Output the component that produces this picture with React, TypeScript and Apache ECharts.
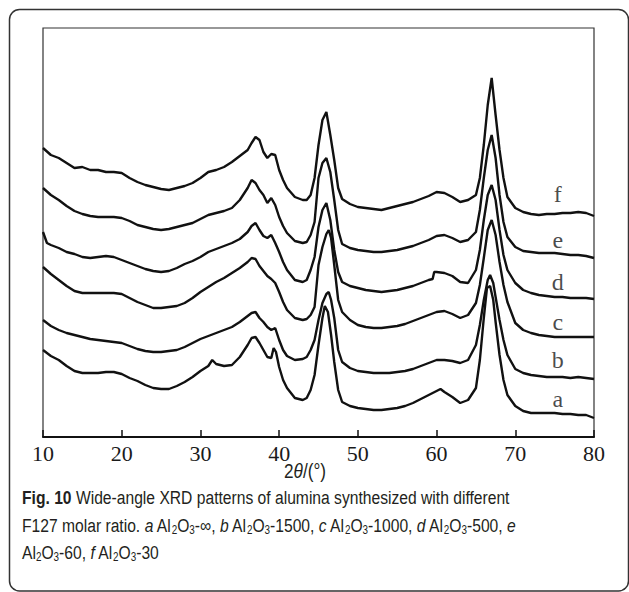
import React, { useEffect, useRef } from "react";
import * as echarts from "echarts";

// 2θ (deg) vs intensity (a.u.)
const curveA: [number, number][] = [
  [10, 87], [11, 81], [12, 77], [13, 71], [14, 66], [15, 64], [16, 64], [17, 64], [18, 65], [19, 65],
  [20, 63], [21, 59], [22, 56], [23, 52], [24, 49], [25, 48], [26, 48], [27, 51], [28, 55], [29, 60],
  [30, 66], [31, 71], [31.5, 77], [32, 73], [33, 71], [34, 72], [35, 80], [36, 92], [36.5, 99], [37, 100],
  [37.5, 94], [38, 87], [38.5, 80], [39, 79], [39.3, 89], [39.6, 85], [40, 70], [40.5, 57], [41, 49], [42, 39],
  [43, 37], [43.5, 39], [44, 47], [44.5, 62], [45, 92], [45.5, 119], [45.8, 131], [46.2, 125], [46.6, 102], [47, 75],
  [47.5, 47], [48, 35], [49, 31], [50, 29], [51, 28], [52, 27], [53, 27], [54, 28], [55, 29], [56, 31],
  [57, 34], [58, 38], [59, 42], [60, 46], [60.5, 48], [61, 45], [62, 40], [63, 34], [64, 37], [65, 49],
  [65.5, 77], [66, 119], [66.4, 149], [66.8, 151], [67.2, 137], [67.5, 115], [68, 82], [68.5, 57], [69, 42], [70, 31],
  [71, 26], [72, 24], [73, 24], [74, 24], [75, 24], [76, 23], [77, 23], [78, 22], [79, 22], [80, 19],
];

const curveB: [number, number][] = [
  [10, 117], [11, 111], [12, 107], [13, 104], [14, 102], [15, 100], [16, 98], [17, 97], [18, 96], [19, 95],
  [20, 94], [21, 91], [22, 88], [23, 86], [24, 85], [25, 85], [26, 86], [27, 87], [28, 90], [29, 94],
  [30, 98], [31, 101], [32, 104], [33, 107], [34, 110], [35, 115], [36, 121], [36.5, 124], [37, 125], [37.5, 119],
  [38, 115], [38.5, 110], [39, 107], [39.5, 109], [40, 97], [40.5, 87], [41, 81], [42, 77], [43, 78], [43.5, 80],
  [44, 87], [44.5, 97], [45, 117], [45.5, 134], [46, 143], [46.3, 145], [46.6, 137], [47, 119], [47.5, 87], [48, 75],
  [49, 69], [50, 66], [51, 65], [52, 64], [53, 64], [54, 64], [55, 65], [56, 66], [57, 68], [58, 71],
  [59, 74], [60, 77], [61, 77], [62, 76], [63, 74], [64, 77], [65, 92], [65.5, 112], [66, 137], [66.5, 157],
  [66.8, 162], [67.2, 154], [67.5, 140], [68, 117], [68.5, 97], [69, 82], [70, 68], [71, 64], [72, 62], [73, 61],
  [74, 60], [75, 60], [76, 60], [77, 59], [78, 60], [79, 59], [80, 58],
];

const curveC: [number, number][] = [
  [10, 170], [11, 163], [12, 157], [13, 151], [14, 146], [15, 144], [16, 144], [17, 144], [18, 144], [19, 144],
  [20, 143], [21, 139], [22, 135], [23, 132], [24, 129], [25, 129], [26, 130], [27, 131], [28, 134], [29, 139],
  [30, 145], [31, 150], [32, 155], [33, 159], [34, 164], [35, 169], [36, 175], [36.5, 179], [37, 178], [37.5, 171],
  [38, 166], [38.5, 161], [39, 158], [39.5, 154], [40, 145], [40.5, 135], [41, 127], [42, 119], [43, 117], [43.5, 118],
  [44, 122], [44.5, 130], [45, 172], [45.5, 190], [46, 203], [46.3, 207], [46.6, 199], [47, 172], [47.5, 137], [48, 125],
  [49, 117], [50, 112], [51, 110], [52, 109], [53, 109], [54, 110], [55, 111], [56, 113], [57, 116], [58, 119],
  [59, 122], [60, 125], [61, 126], [62, 123], [63, 119], [64, 122], [65, 134], [65.5, 152], [66, 179], [66.5, 207],
  [67, 217], [67.5, 202], [68, 175], [68.5, 152], [69, 135], [70, 114], [71, 107], [72, 104], [73, 102], [74, 101],
  [75, 100], [76, 100], [77, 100], [78, 100], [79, 100], [80, 100],
];

const curveD: [number, number][] = [
  [10, 205], [10.5, 194], [11, 192], [12, 189], [13, 185], [14, 183], [15, 180], [16, 179], [17, 180], [18, 181],
  [19, 180], [20, 177], [21, 174], [22, 171], [23, 168], [24, 166], [25, 165], [26, 166], [27, 169], [28, 173],
  [29, 176], [30, 180], [31, 185], [32, 188], [33, 191], [34, 194], [35, 198], [36, 205], [36.5, 211], [37, 214],
  [37.5, 207], [38, 201], [38.5, 199], [39, 202], [39.5, 194], [40, 185], [40.5, 175], [41, 167], [42, 157], [43, 155],
  [43.5, 157], [44, 167], [44.5, 180], [45, 210], [45.5, 227], [46, 234], [46.5, 217], [47, 187], [47.5, 165], [48, 155],
  [49, 151], [50, 149], [51, 147], [52, 146], [53, 145], [54, 146], [55, 147], [56, 149], [57, 151], [58, 154],
  [59, 157], [59.5, 158], [59.7, 165], [60, 165], [61, 164], [62, 161], [63, 155], [64, 154], [65, 167], [65.5, 187],
  [66, 217], [66.5, 242], [67, 252], [67.5, 237], [68, 207], [68.5, 182], [69, 167], [70, 154], [71, 147], [72, 144],
  [73, 142], [74, 141], [75, 140], [76, 140], [77, 139], [78, 139], [79, 139], [80, 138],
];

const curveE: [number, number][] = [
  [10, 249], [11, 242], [12, 237], [13, 231], [14, 226], [15, 223], [16, 221], [17, 220], [18, 220], [19, 220],
  [20, 219], [21, 216], [22, 212], [23, 210], [24, 208], [25, 207], [26, 208], [27, 210], [28, 212], [29, 214],
  [30, 218], [31, 222], [32, 224], [33, 226], [34, 229], [35, 237], [36, 249], [36.5, 257], [37, 254], [37.5, 247],
  [38, 242], [38.5, 234], [39, 239], [39.5, 232], [40, 220], [40.5, 211], [41, 204], [42, 196], [43, 194], [43.5, 195],
  [44, 202], [44.5, 215], [45, 259], [45.5, 274], [46, 279], [46.5, 265], [47, 237], [47.5, 207], [48, 193], [49, 189],
  [50, 187], [51, 186], [52, 185], [53, 185], [54, 186], [55, 187], [56, 189], [57, 191], [58, 194], [59, 197],
  [60, 201], [61, 202], [62, 199], [63, 195], [64, 197], [65, 205], [65.5, 227], [66, 259], [66.5, 287], [67, 302],
  [67.5, 279], [68, 242], [68.5, 215], [69, 200], [70, 190], [71, 186], [72, 185], [73, 184], [74, 184], [75, 184],
  [76, 183], [77, 182], [78, 182], [79, 181], [80, 179],
];

const curveF: [number, number][] = [
  [10, 289], [11, 282], [12, 279], [13, 274], [14, 269], [15, 270], [16, 267], [17, 267], [18, 265], [19, 265],
  [20, 264], [21, 259], [22, 255], [23, 252], [24, 250], [25, 248], [26, 247], [27, 249], [28, 251], [29, 254],
  [30, 259], [31, 265], [32, 267], [33, 270], [34, 275], [35, 281], [36, 287], [36.5, 294], [37, 300], [37.5, 297],
  [38, 285], [38.5, 279], [39, 283], [39.5, 282], [40, 267], [40.5, 257], [41, 249], [42, 240], [43, 237], [43.5, 237],
  [44, 242], [44.5, 259], [45, 292], [45.5, 317], [46, 325], [46.5, 302], [47, 277], [47.5, 249], [48, 238], [49, 233],
  [50, 230], [51, 229], [52, 228], [53, 227], [54, 229], [55, 231], [56, 233], [57, 235], [58, 238], [59, 241],
  [60, 245], [61, 244], [62, 240], [63, 235], [64, 237], [65, 242], [65.5, 259], [66, 292], [66.5, 332], [67, 359],
  [67.5, 322], [68, 287], [68.5, 259], [69, 240], [70, 229], [71, 225], [72, 223], [73, 222], [74, 223], [75, 223],
  [76, 224], [77, 224], [78, 225], [79, 224], [80, 221],
];

const curveNames = ["a", "b", "c", "d", "e", "f"];
const curves = [curveA, curveB, curveC, curveD, curveE, curveF];
const labelX = [75.4, 75.4, 75.4, 75.4, 75.4, 75.4];
const labelY = [38, 77, 115, 155, 197, 243];
const xTicks = [10, 20, 30, 40, 50, 60, 70, 80];

const captionLines = [
  "{b|Fig. 10} Wide-angle XRD patterns of alumina synthesized with different",
  "F127 molar ratio. {i|a} Al{s|2}O{s|3}-∞, {i|b} Al{s|2}O{s|3}-1500, {i|c} Al{s|2}O{s|3}-1000, {i|d} Al{s|2}O{s|3}-500, {i|e}",
  "Al{s|2}O{s|3}-60, {i|f} Al{s|2}O{s|3}-30",
];

export default function App() {
  const ref = useRef<HTMLDivElement>(null);
  useEffect(() => {
    if (!ref.current) return;
    const chart = echarts.init(ref.current, undefined, { renderer: "svg" });
    const sans = '"Liberation Sans", Arial, sans-serif';
    const serif = '"Liberation Serif", "Times New Roman", serif';
    const richCaption = {
      b: { fontWeight: "bold", fontSize: 19, fontFamily: sans, fill: "#231f20", lineHeight: 22 },
      i: { fontStyle: "italic", fontSize: 19, fontFamily: sans, fill: "#231f20", lineHeight: 22 },
      s: { fontSize: 12, fontFamily: sans, fill: "#231f20", lineHeight: 12, verticalAlign: "bottom" },
    };
    const captionY = [497, 525, 552];
    const option: any = {
      animation: false,
      backgroundColor: "#ffffff",
      grid: {
        left: 43,
        top: 28,
        width: 551,
        height: 409,
        show: true,
        borderColor: "#333",
        borderWidth: 1.2,
        backgroundColor: "transparent",
      },
      xAxis: {
        type: "value",
        min: xTicks[0],
        max: xTicks[xTicks.length - 1],
        interval: 10,
        axisLine: { show: true, onZero: false, lineStyle: { color: "#111", width: 2 } },
        axisTick: { show: true, inside: true, length: 7, lineStyle: { color: "#111", width: 1.5 } },
        axisLabel: { fontFamily: serif, fontSize: 22, color: "#1a1a1a", margin: 5 },
        splitLine: { show: false },
      },
      yAxis: { type: "value", min: 0, max: 409, show: false },
      series: [
        ...curves.map((data, i) => ({
          type: "line",
          name: curveNames[i],
          data,
          symbol: "none",
          showSymbol: false,
          silent: true,
          lineStyle: { color: "#111", width: 2.4 },
        })),
        {
          type: "scatter",
          name: "labels",
          symbolSize: 0,
          silent: true,
          data: curveNames.map((n, i) => ({ name: n, value: [labelX[i], labelY[i]] })),
          label: {
            show: true,
            position: "inside",
            formatter: "{b}",
            fontFamily: serif,
            fontSize: 24,
            color: "#1a1a1a",
          },
        },
      ],
      graphic: [
        {
          type: "rect",
          shape: { x: 9.5, y: 9.5, width: 619, height: 581.5, r: 10 },
          style: { fill: "none", stroke: "#333", lineWidth: 1.5 },
          silent: true,
        },
        {
          type: "text",
          x: 305,
          y: 471,
          scaleX: 0.82,
          style: {
            text: "2{it|θ}/(°)",
            fontFamily: sans,
            fontSize: 21,
            fill: "#231f20",
            align: "center",
            verticalAlign: "middle",
            rich: { it: { fontStyle: "italic", fontFamily: sans, fontSize: 21, fill: "#231f20" } },
          },
        },
        ...captionLines.map((t, i) => ({
          type: "text",
          x: 22,
          y: captionY[i],
          scaleX: 0.824,
          style: {
            text: t,
            fontFamily: sans,
            fontSize: 19,
            lineHeight: 22,
            fill: "#231f20",
            align: "left",
            verticalAlign: "middle",
            rich: richCaption,
          },
        })),
      ],
    };
    chart.setOption(option);
    return () => chart.dispose();
  }, []);
  return (
    <div
      ref={ref}
      style={{ position: "fixed", left: 0, top: 0, width: 629, height: 592, background: "#fff" }}
    />
  );
}
